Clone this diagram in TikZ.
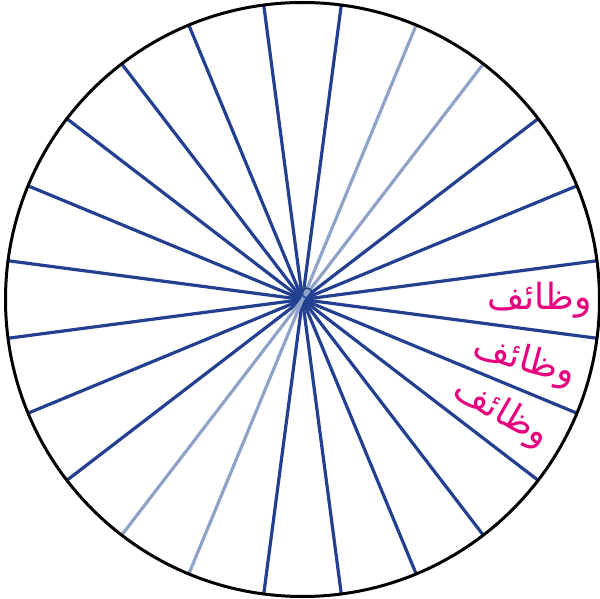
\documentclass[tikz,border=0pt]{standalone}
\usepackage{fontspec}
\usetikzlibrary{calc}
\TeXXeTstate=1
\newfontfamily\arabicfont[Script=Arabic]{DejaVu Sans}
\definecolor{spokeblue}{RGB}{34,64,143}
\definecolor{spokelight}{RGB}{143,163,201}
\definecolor{wordpink}{RGB}{230,0,126}
\begin{document}
\begin{tikzpicture}[x=1pt,y=-1pt,
  rim/.style={draw=black,line width=3pt},
  spoke/.style={draw=spokeblue,line width=3.2pt},
  lightspoke/.style={draw=spokelight,line width=3.2pt},
  word/.style={text=wordpink,font=\arabicfont\fontsize{36}{42}\selectfont,inner sep=0pt}]
\useasboundingbox (0,0) rectangle (600,599);
\coordinate (c) at (302.5,299.5);
\foreach \k in {0,...,11}{
  \pgfmathsetmacro{\a}{7.5+15*\k}
  \coordinate (p\k) at ($(c)+({297*cos(\a)},{-297*sin(\a)})$);
  \coordinate (q\k) at ($(c)+({-297*cos(\a)},{297*sin(\a)})$);
}
\foreach \k in {0,1,2,5,6,7,8,9,10,11}{\draw[spoke] (p\k) -- (q\k);}
\foreach \k in {3,4}{\draw[lightspoke] (p\k) -- (q\k);}
\node[circle,draw=spokeblue,line width=1.5pt,minimum size=10pt,inner sep=0pt] (hub) at (307,293) {};
\node[circle,rim,minimum size=594pt,inner sep=0pt] (wheel) at (c) {};
\node[word] (w1) at ($(c)+(237,1)$) {\beginR وظائف\endR};
\node[word,rotate=-15] (w2) at ($(c)+(222,62)$) {\beginR وظائف\endR};
\node[word,rotate=-30] (w3) at ($(c)+(199,114)$) {\beginR وظائف\endR};
\end{tikzpicture}
\end{document}
